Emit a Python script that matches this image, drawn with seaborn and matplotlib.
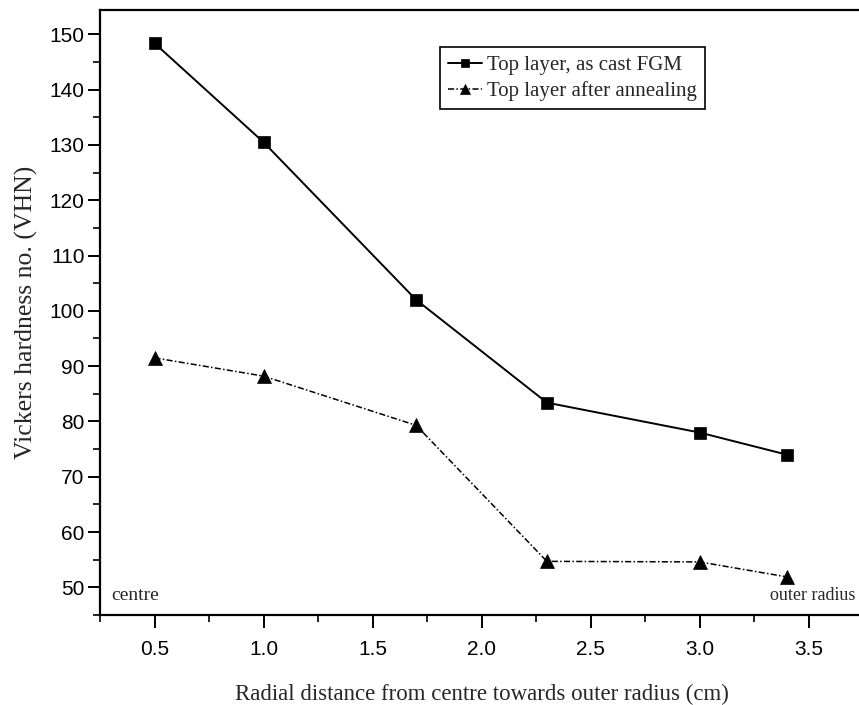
import matplotlib
matplotlib.use("Agg")
import matplotlib.pyplot as plt
from matplotlib.ticker import MultipleLocator
import seaborn as sns
import pandas as pd

# Radial positions (cm) and Vickers hardness readings
radial_cm = [0.5, 1.0, 1.7, 2.3, 3.0, 3.4]
hv_as_cast = [148.4, 130.5, 102.0, 83.4, 78.0, 74.0]
hv_annealed = [91.5, 88.2, 79.3, 54.7, 54.6, 51.9]
series_names = ["Top layer, as cast FGM", "Top layer after annealing"]
x_tick_labels = ["0.5", "1.0", "1.5", "2.0", "2.5", "3.0", "3.5"]

sns.set_style("ticks")
plt.rcParams["font.family"] = ["Liberation Serif", "DejaVu Serif"]

fig = plt.figure(figsize=(8.59, 7.05), dpi=100)
ax = fig.add_axes([100 / 859, 1 - 615 / 705, 763 / 859, 605 / 705])

df1 = pd.DataFrame({"x": radial_cm, "y": hv_as_cast})
df2 = pd.DataFrame({"x": radial_cm, "y": hv_annealed})

sns.lineplot(data=df1, x="x", y="y", ax=ax, color="black", linewidth=1.4,
             marker="s", markersize=8.5, markeredgecolor="black",
             markeredgewidth=0.5, label=series_names[0])
sns.lineplot(data=df2, x="x", y="y", ax=ax, color="black", linewidth=1.1,
             marker="^", markersize=10, markeredgecolor="black",
             markeredgewidth=0.5, dashes=(4, 1.5, 1, 1.5),
             label=series_names[1])

ax.set_xlim(0.25, 3.75)
ax.set_ylim(45, 154.4)
ax.xaxis.set_minor_locator(MultipleLocator(0.25))
ax.yaxis.set_major_locator(MultipleLocator(10))
ax.yaxis.set_minor_locator(MultipleLocator(5))
ax.set_xticks([0.5, 1.0, 1.5, 2.0, 2.5, 3.0, 3.5])
ax.set_xticklabels(x_tick_labels)

for lab in ax.get_xticklabels() + ax.get_yticklabels():
    lab.set_family(["Liberation Sans", "DejaVu Sans"])
    lab.set_fontsize(15)

ax.tick_params(which="major", direction="out", length=9, width=1.4, colors="black")
ax.tick_params(which="minor", direction="out", length=5, width=1.2, colors="black")
ax.tick_params(axis="x", which="major", pad=9)
ax.tick_params(axis="y", which="major", pad=2)
for side in ["left", "bottom", "top"]:
    ax.spines[side].set_linewidth(1.6)
    ax.spines[side].set_color("black")
ax.spines["right"].set_visible(False)

ax.set_xlabel("Radial distance from centre towards outer radius (cm)", fontsize=16.5, labelpad=18)
ax.set_ylabel("Vickers hardness no. (VHN)", fontsize=18.5, labelpad=8)

ax.text(0.30, 47.8, "centre", fontsize=14, ha="left", va="baseline")
ax.text(3.715, 47.8, "outer radius", fontsize=13, ha="right", va="baseline")

leg = ax.legend(loc="upper left", bbox_to_anchor=(0.4456, 0.939), borderaxespad=0,
                fontsize=15, frameon=True, fancybox=False, shadow=False,
                handlelength=1.6, handletextpad=0.25, labelspacing=0.3,
                borderpad=0.4, markerscale=0.75)
leg.get_frame().set_edgecolor("black")
leg.get_frame().set_linewidth(1.2)
leg.get_frame().set_alpha(1)

fig.savefig("out.png", dpi=100)
